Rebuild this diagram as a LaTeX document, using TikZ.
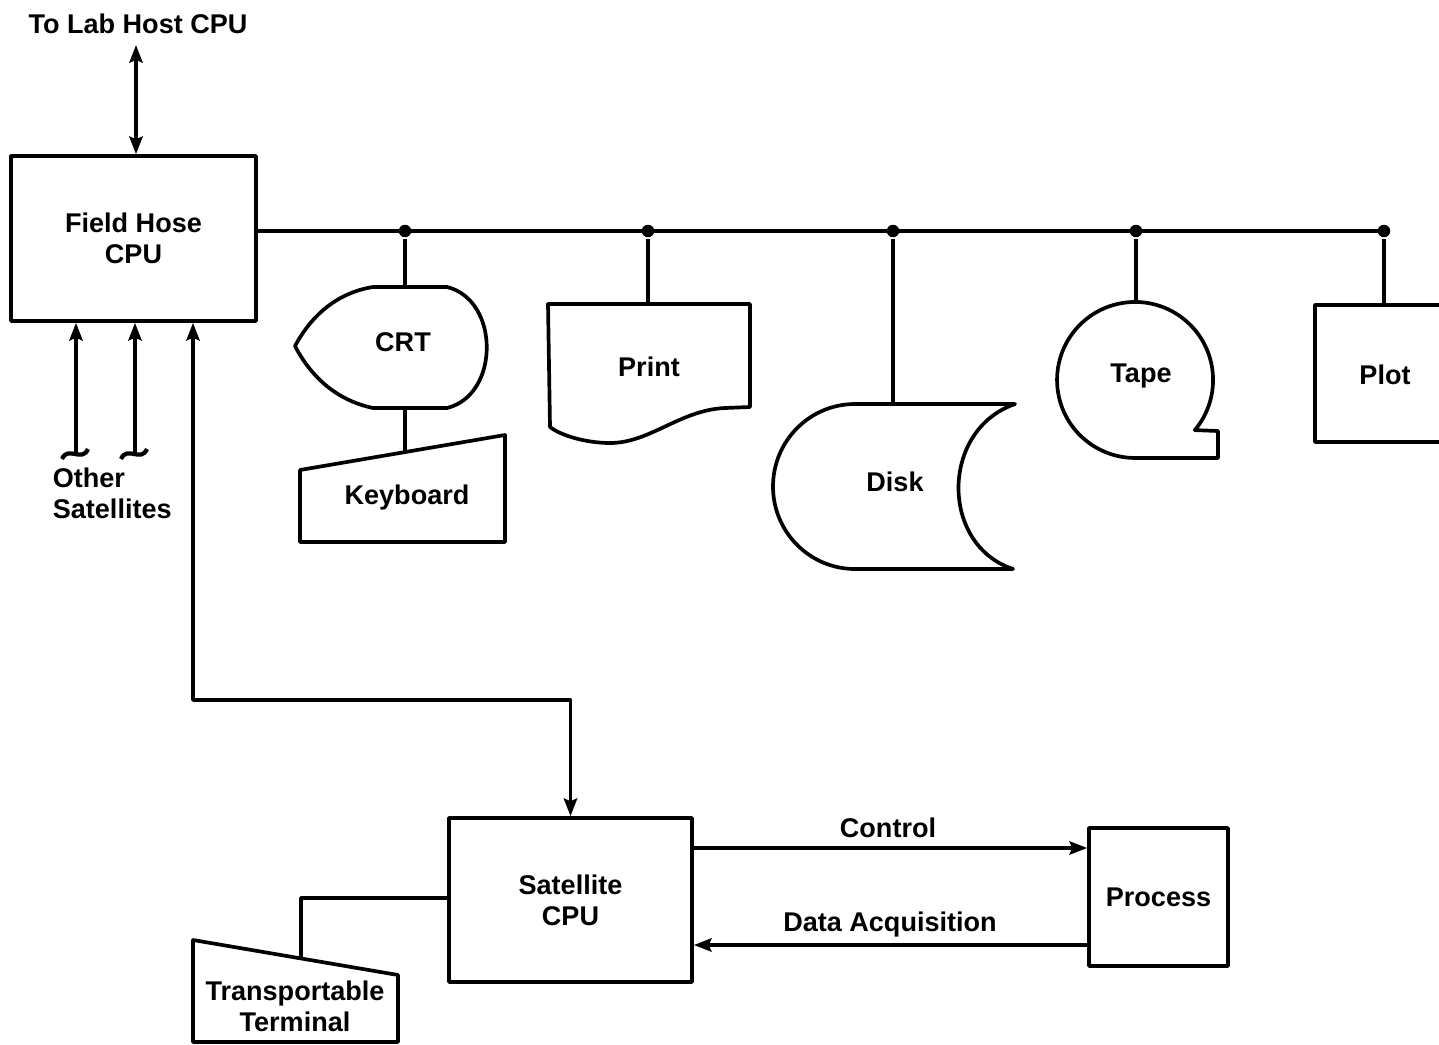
\documentclass[tikz,border=0pt]{standalone}
\usepackage{fontspec}
\setmainfont{Liberation Sans}
\usetikzlibrary{arrows.meta}
\begin{document}
\begin{tikzpicture}[x=0.02cm,y=-0.02cm, line width=2.1pt, line join=round,
  lbl/.style={font=\fontsize{15.4}{17.6}\selectfont\bfseries, align=center, inner sep=0pt},
  box/.style={draw, lbl, inner sep=0pt},
  tip/.tip={Stealth[length=10pt,width=7.5pt,inset=1.5pt]},
  arr/.style={-tip},
  darr/.style={tip-tip},
  dot/.style={circle, fill, inner sep=0pt, minimum size=0.25cm}]
\useasboundingbox (0,0) rectangle (1439,1044);

% Field host CPU
\node[box, minimum width=4.9cm, minimum height=3.3cm] (fh) at (133.5,238.5) {Field Hose\\CPU};
\node[lbl] (lab) at (138,24) {To Lab Host CPU};
\coordinate (labin) at (136,45);
\draw[darr] (labin) -- (labin |- fh.north);

% bus
\coordinate (busend) at (1384,231);
\node[dot] (d1) at (405,231) {};
\node[dot] (d2) at (648,231) {};
\node[dot] (d3) at (893,231) {};
\node[dot] (d4) at (1136,231) {};
\node[dot] (d5) at (1384,231) {};
\draw (fh.east |- busend) -- (busend);

% CRT
\coordinate (crttop) at (405,287);
\coordinate (crtbot) at (405,408);
\draw (373,287) -- (447,287) .. controls (500,300) and (500,395) .. (447,408) -- (373,408)
  .. controls (335,400) and (310,375) .. (295,346) .. controls (310,318) and (335,293) .. (373,287) -- cycle;
\node[lbl] (crt) at (403,342) {CRT};
\draw (d1) -- (crttop);

% Keyboard
\coordinate (kbtop) at (405,452);
\draw (300,470) -- (505,435) -- (505,542) -- (300,542) -- cycle;
\node[lbl] (kb) at (407,497) {Keyboard};
\draw (crtbot) -- (kbtop);

% Print
\coordinate (prtop) at (648,304);
\draw (548,304) -- (750,304) -- (750,407) -- (725,408) .. controls (680,410) and (650,443) .. (610,443)
  .. controls (585,443) and (560,435) .. (550,427) -- cycle;
\node[lbl] (pr) at (649,367) {Print};
\draw (d2) -- (prtop);

% Disk
\coordinate (dktop) at (893,404);
\draw (855,404) -- (1015,404) .. controls (940,430) and (940,545) .. (1013,569) -- (855,569)
  arc[start angle=90, end angle=270, x radius=82, y radius=82.5] -- cycle;
\node[lbl] (dk) at (895,482) {Disk};
\draw (d3) -- (dktop);

% Tape
\coordinate (tptop) at (1136,302);
\draw (1194.8,430.1) arc[start angle=40, end angle=-270, radius=78] -- (1218,458) -- (1218,431) -- cycle;
\node[lbl] (tp) at (1141,376) {Tape};
\draw (d4) -- (tptop);

% Plot
\coordinate (pltop) at (1384,305);
\draw (1445,305) -- (1315,305) -- (1315,442) -- (1445,442);
\node[lbl] (pl) at (1385,375) {Plot};
\draw (d5) -- (pltop);

% Other satellites
\coordinate (os1) at (76,453);
\coordinate (os2) at (135,453);
\draw[arr] (os1) -- (os1 |- fh.south);
\draw[arr] (os2) -- (os2 |- fh.south);
\draw[line width=2.4pt] (62,459) .. controls (68,445) and (82,463) .. (88,449);
\draw[line width=2.4pt] (121,459) .. controls (127,445) and (141,463) .. (147,449);
\node[lbl, align=left, anchor=west] (other) at (51,493) {Other\\Satellites};

% Satellite CPU
\node[box, minimum width=4.86cm, minimum height=3.28cm] (sat) at (570.5,900) {Satellite\\CPU};
\coordinate (c3) at (193,700);
\draw[darr] (fh.south -| c3) -- (c3) -- (c3 -| sat.north) -- (sat.north);

% Process
\node[box, minimum width=2.78cm, minimum height=2.76cm] (proc) at (1158.5,897) {Process};
\coordinate (ctrly) at (0,848);
\coordinate (daqy) at (0,945);
\draw[arr] (sat.east |- ctrly) -- (proc.west |- ctrly);
\draw[arr] (proc.west |- daqy) -- (sat.east |- daqy);
\node[lbl] (ctl) at (888,828) {Control};
\node[lbl] (daq) at (890,924) {Data Acquisition};

% Transportable terminal
\draw (193,940) -- (398,975) -- (398,1042) -- (193,1042) -- cycle;
\node[lbl] (tt) at (295,1006) {Transportable\\Terminal};
\coordinate (ttc) at (301,898);
\draw (sat.west |- ttc) -- (ttc) -- (301,958);
\end{tikzpicture}
\end{document}
